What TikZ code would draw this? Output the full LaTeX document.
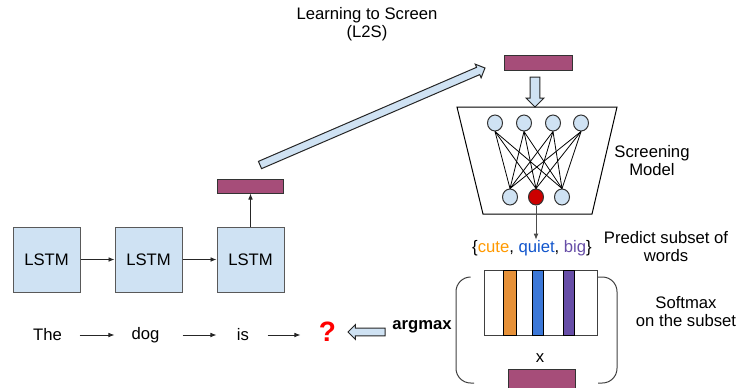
\documentclass[tikz,border=0pt]{standalone}
\usepackage{fontspec}
\setmainfont{Liberation Sans}
\usetikzlibrary{calc,shapes.arrows,shapes.geometric,arrows.meta}

\definecolor{cellblue}{RGB}{207,226,243}
\definecolor{edgegray}{RGB}{89,89,89}
\definecolor{embpurple}{RGB}{166,77,121}
\definecolor{barorange}{RGB}{230,145,56}
\definecolor{barblue}{RGB}{60,120,216}
\definecolor{barpurple}{RGB}{103,78,167}
\definecolor{netred}{RGB}{204,0,0}
\definecolor{txtorange}{RGB}{255,153,0}
\definecolor{txtblue}{RGB}{17,85,204}

\tikzset{every picture/.style={line width=0.75pt}}
\tikzset{
  lbl/.style={inner sep=0pt, align=center, font=\fontsize{12.5}{13.5}\selectfont},
  lstm/.style={lbl, draw=edgegray, fill=cellblue, minimum width=50.25pt, minimum height=48.75pt},
  emb/.style={draw=black!80, fill=embpurple, inner sep=0pt, minimum width=50pt, minimum height=10.5pt},
  unit/.style={ellipse, draw=black!80, fill=cellblue, inner sep=0pt, minimum width=11.25pt, minimum height=12pt},
  thinarr/.style={draw=black!85, line width=0.6pt, -{Latex[length=4.5pt,width=3.5pt]}},
  fatarr/.style={single arrow, draw=black!85, fill=cellblue, inner sep=2.6pt, outer sep=0pt,
    single arrow head extend=2.6pt},
  bracket/.style={draw=black!75, rounded corners=11pt}
}
% block arrow laid from one named point to another
\newcommand{\blockarrow}[3][]{%
  \path let \p1=(#2), \p2=(#3), \n1={atan2(\y2-\y1,\x2-\x1)}, \n2={veclen(\x2-\x1,\y2-\y1)} in
    node [fatarr, #1, rotate=-\n1, minimum height=\n2, anchor=tail] at (\p1) {};}

\begin{document}
\begin{tikzpicture}[x=0.75pt,y=0.75pt,yscale=-1,xscale=1]
\useasboundingbox (0,0) rectangle (738,387);

%Shapes: LSTM cells
\node (c1) [lstm] at (46.5,259.5) {LSTM};
\node (c2) [lstm] at (148.5,259.5) {LSTM};
\node (c3) [lstm] at (250.5,259.5) {LSTM};
\draw [thinarr] (c1) -- (c2);
\draw [thinarr] (c2) -- (c3);

%Shape: Rectangle [hidden state]
\node (h) [emb] at (250.5,186) {};
\draw [thinarr] (c3) -- (h);

% Text Node
\node (l2s) [lbl] at (367,24) {Learning to Screen\\(L2S)};

%Block arrow to the screening input
\coordinate (s0) at (260,165);
\coordinate (s1) at (485,68);
\blockarrow{s0}{s1}

%Shape: Rectangle [screening input]
\node (hs) [emb, minimum width=51pt, minimum height=11.25pt] at (538,62.5) {};
\coordinate (d0) at (535,77);
\coordinate (d1) at (535,107);
\blockarrow[inner sep=3.3pt, single arrow head extend=3pt]{d0}{d1}

%Shape: Trapezoid [screening model]
\draw (457,107) -- (617,107) -- (592,214) -- (483,214) -- cycle;
\foreach \i/\x in {1/495,2/524,3/553,4/581}
  \node (t\i) [unit] at (\x,123) {};
\node (b1) [unit] at (510,197) {};
\node (b2) [unit, fill=netred] at (536,197) {};
\node (b3) [unit] at (562,197) {};
\foreach \i in {1,...,4}
  \foreach \j in {1,2,3}
    \draw [line width=0.6pt] (t\i.south) -- (b\j.north);
\node (sm) [lbl] at (652,161) {Screening\\Model};

% Text Node [subset]
\node (sub) [lbl] at (532,248) {\{\textcolor{txtorange}{cute}, \textcolor{txtblue}{quiet}, \textcolor{barpurple}{big}\}};
\draw [thinarr, draw=black!70] (b2) -- (b2 |- sub.north);
\node (ps) [lbl] at (666,247) {Predict subset of\\words};

%Shape: Rectangle [softmax]
\draw [draw=black!75] (484,270) rectangle (597,335);
\draw [fill=barorange] (503,270) rectangle (516,335);
\draw [fill=barblue] (532,270) rectangle (543,335);
\draw [fill=barpurple] (563,270) rectangle (574,335);
\node (x) [lbl] at (540,358) {x};
\node (he) [emb, minimum width=50.25pt, minimum height=16pt] at (541.5,380) {};
\draw [bracket] (470,277) -- (456,277) -- (456,383) -- (474,383);
\draw [bracket] (598,277) -- (617,277) -- (617,383) -- (598,383);
\node (so) [lbl] at (686,312) {Softmax\\on the subset};

% Text Node [words]
\node (w1) [lbl] at (47.5,335) {The};
\node (w2) [lbl] at (145.5,335) {dog};
\node (w3) [lbl] at (243,335) {is};
\node (q) [lbl, text=red, font=\fontsize{21}{21}\bfseries] at (327.5,332) {?};
\draw [thinarr, shorten <=13pt, shorten >=12.5pt] (w1) -- (w2);
\draw [thinarr, shorten <=17pt, shorten >=15pt] (w2) -- (w3);
\draw [thinarr, shorten <=13.5pt, shorten >=13.5pt] (w3.east) -- (w3.east -| q.west);

\node (am) [lbl, font=\fontsize{12.5}{13.5}\bfseries] at (422,327) {argmax};
\coordinate (g0) at (385,332);
\coordinate (g1) at (348,332);
\blockarrow{g0}{g1}

\end{tikzpicture}
\end{document}
